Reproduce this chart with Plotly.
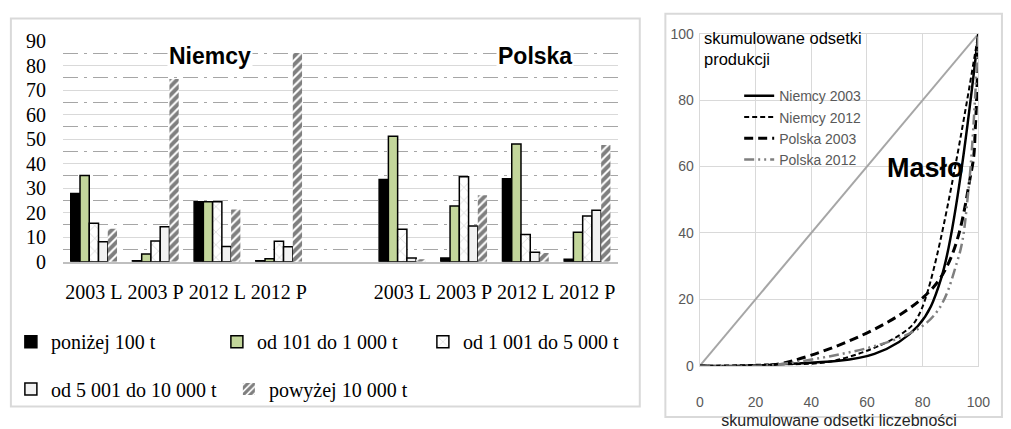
import plotly.graph_objects as go

# ---------------- data: bar chart (percent shares) ----------------
categories = ["2003 L", "2003 P", "2012 L", "2012 P", "2003 L", "2003 P", "2012 L", "2012 P"]
slot_index = [0, 1, 2, 3, 5, 6, 7, 8]          # slot 4 is the empty gap between countries
tick_text = categories
series_names = ["poniżej 100 t", "od 101 do 1 000 t", "od 1 001 do 5 000 t",
                "od 5 001 do 10 000 t", "powyżej 10 000 t"]
below_100 = [27.8, 0.4, 24.5, 0.4, 33.5, 1.5, 33.8, 1.0]
from_101_to_1000 = [35.2, 3.2, 24.5, 1.2, 51.2, 22.7, 48.0, 12.0]
from_1001_to_5000 = [15.7, 8.5, 24.5, 8.4, 13.3, 34.7, 11.1, 18.7]
from_5001_to_10000 = [8.2, 14.3, 6.2, 6.1, 1.5, 14.6, 3.9, 21.0]
above_10000 = [13.5, 74.5, 21.3, 85.1, 1.0, 27.1, 3.6, 47.6]

# ---------------- data: Lorenz curves (cumulative %) ----------------
lorenz_names = ["Niemcy 2003", "Niemcy 2012", "Polska 2003", "Polska 2012"]
niemcy2003_x = [0, 27.7, 62.7, 78.3, 86.6, 100]
niemcy2003_y = [0, 0.4, 3.6, 12.0, 26.2, 100]
niemcy2012_x = [0, 24.3, 48.6, 72.9, 79.0, 100]
niemcy2012_y = [0, 0.4, 1.6, 9.9, 15.9, 100]
polska2003_x = [0, 33.3, 84.3, 97.5, 99.0, 100]
polska2003_y = [0, 1.5, 24.1, 58.6, 73.1, 100]
polska2012_x = [0, 33.7, 81.5, 92.5, 96.4, 100]
polska2012_y = [0, 1.0, 13.0, 31.6, 52.5, 100]
equality_x = [0, 100]
equality_y = [0, 100]

W, H = 1011, 429
def px(x):
    return x / W
def py(y):
    return 1 - y / H

SERIF = "Liberation Serif, Times New Roman, serif"
SANS = "Liberation Sans, Arial, sans-serif"

fig = go.Figure()

bar_values = [below_100, from_101_to_1000, from_1001_to_5000, from_5001_to_10000, above_10000]
bar_styles = [
    dict(color="#000000", line=dict(color="#000000", width=1.5)),
    dict(color="#c3d69b", line=dict(color="#000000", width=1.5)),
    dict(color="#ffffff", line=dict(color="#000000", width=1.5),
         pattern=dict(shape="x", fgcolor="#8c8c8c", bgcolor="#ffffff", size=9, solidity=0.12)),
    dict(color="#f2f2f2", line=dict(color="#000000", width=1.5)),
    dict(color="#ffffff", line=dict(color="#000000", width=0),
         pattern=dict(shape="/", fgcolor="#000000", bgcolor="#ffffff", size=6, solidity=0.65)),
]
legend_ids = ["legend", "legend", "legend", "legend2", "legend2"]
for name, vals, style, lg in zip(series_names, bar_values, bar_styles, legend_ids):
    fig.add_trace(go.Bar(x=slot_index, y=vals, name=name, marker=style,
                         xaxis="x", yaxis="y", legend=lg))

# Lorenz panel
fig.add_trace(go.Scatter(x=equality_x, y=equality_y, mode="lines",
                         line=dict(color="#a6a6a6", width=2), showlegend=False,
                         xaxis="x2", yaxis="y2"))
lorenz_data = [(niemcy2003_x, niemcy2003_y), (niemcy2012_x, niemcy2012_y),
               (polska2003_x, polska2003_y), (polska2012_x, polska2012_y)]
lorenz_lines = [
    dict(color="#000000", width=2.5, dash="solid"),
    dict(color="#000000", width=2, dash="5px,3px"),
    dict(color="#000000", width=3, dash="9px,5px"),
    dict(color="#7f7f7f", width=2.5, dash="10px,4px,2px,4px,2px,4px"),
]
for name, (lx, ly), ln in zip(lorenz_names, lorenz_data, lorenz_lines):
    fig.add_trace(go.Scatter(x=lx, y=ly, mode="lines", name=name, legendgroup=name,
                             line=dict(shape="spline", smoothing=1, **ln),
                             cliponaxis=False, xaxis="x2", yaxis="y2", legend="legend3"))

fig.update_layout(
    width=W, height=H, autosize=False,
    margin=dict(l=0, r=0, t=0, b=0),
    paper_bgcolor="white", plot_bgcolor="white",
    barmode="group", bargap=0.25, bargroupgap=0,
    xaxis=dict(domain=[px(60), px(624)], range=[-0.5, 8.5], tickmode="array",
               tickvals=slot_index, ticktext=tick_text, showgrid=False,
               showline=True, linecolor="#bfbfbf", linewidth=1.5, ticks="",
               ticklabelstandoff=12, tickfont=dict(family=SERIF, size=20, color="#000000"),
               zeroline=False, anchor="y", fixedrange=True),
    yaxis=dict(domain=[py(264.3), py(31.7)], range=[0, 90], dtick=10,
               showgrid=True, gridcolor="#d9d9d9", gridwidth=1.3,
               minor=dict(dtick=5, showgrid=True, gridcolor="#a6a6a6", gridwidth=1.4,
                          griddash="15px,6px,3px,6px"),
               zeroline=False, showline=False, ticks="", ticklabelstandoff=16,
               tickfont=dict(family=SERIF, size=20, color="#000000"), anchor="x"),
    xaxis2=dict(domain=[px(707), px(990)], range=[0, 100], dtick=20,
                showgrid=True, gridcolor="#d9d9d9", gridwidth=1.2,
                showline=True, mirror=True, linecolor="#d9d9d9", linewidth=1.2,
                zeroline=False, ticks="", ticklabelstandoff=23,
                tickfont=dict(family=SANS, size=14, color="#595959"),
                title=dict(text="skumulowane odsetki liczebności", standoff=6,
                           font=dict(family=SANS, size=16, color="#262626")),
                anchor="y2"),
    yaxis2=dict(domain=[py(374), py(24)], range=[0, 100], dtick=20,
                showgrid=True, gridcolor="#d9d9d9", gridwidth=1.2,
                showline=True, mirror=True, linecolor="#d9d9d9", linewidth=1.2,
                zeroline=False, ticks="", ticklabelstandoff=2,
                tickfont=dict(family=SANS, size=14, color="#595959"),
                anchor="x2"),
    legend=dict(orientation="h", x=px(7), y=py(328), xanchor="left", yanchor="top",
                entrywidth=161, entrywidthmode="pixels", traceorder="normal",
                bgcolor="rgba(0,0,0,0)", font=dict(family=SERIF, size=20, color="#000000")),
    legend2=dict(orientation="h", x=px(7), y=py(378), xanchor="left", yanchor="top",
                 entrywidth=173, entrywidthmode="pixels", traceorder="normal",
                 bgcolor="rgba(0,0,0,0)", font=dict(family=SERIF, size=20, color="#000000")),
    legend3=dict(orientation="v", x=px(747), y=py(73), xanchor="left", yanchor="top",
                 bgcolor="rgba(0,0,0,0)", traceorder="normal", tracegroupgap=2,
                 font=dict(family=SANS, size=14, color="#595959")),
    shapes=[
        dict(type="rect", xref="paper", yref="paper", x0=px(7), x1=px(646),
             y0=py(417), y1=py(8), line=dict(color="#d9d9d9", width=2), layer="below"),
        dict(type="rect", xref="paper", yref="paper", x0=px(672), x1=px(1014),
             y0=py(428), y1=py(3), line=dict(color="#d9d9d9", width=2), layer="below"),
    ],
    annotations=[
        dict(text="<b>Niemcy</b>", xref="paper", yref="paper", x=px(209), y=py(47),
             xanchor="center", yanchor="middle",
             showarrow=False, bgcolor="white", font=dict(family=SANS, size=23, color="#000000")),
        dict(text="<b>Polska</b>", xref="paper", yref="paper", x=px(540), y=py(47),
             xanchor="center", yanchor="middle",
             showarrow=False, bgcolor="white", font=dict(family=SANS, size=23, color="#000000")),
        dict(text="<b>Masło</b>", xref="paper", yref="paper", x=px(936), y=py(166),
             xanchor="center", yanchor="middle",
             showarrow=False, font=dict(family=SANS, size=27, color="#000000")),
        dict(text="skumulowane odsetki<br>produkcji", xref="paper", yref="paper",
             x=px(709), y=py(17), xanchor="left", yanchor="top", align="left",
             showarrow=False, font=dict(family=SANS, size=16.5, color="#000000")),
    ],
)

fig.write_html("out.html", config={"displayModeBar": False},
               post_script="document.body.style.margin='0';document.body.style.overflow='hidden';")
